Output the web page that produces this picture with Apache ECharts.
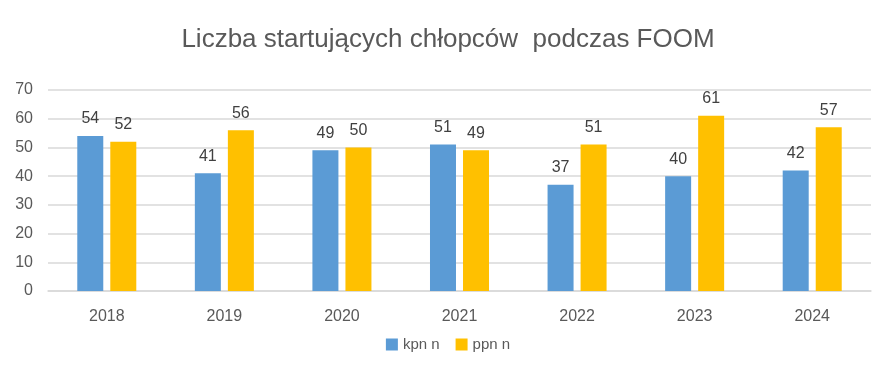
<!DOCTYPE html>
<html><head><meta charset="utf-8">
<script src="https://cdn.jsdelivr.net/npm/echarts@6/dist/echarts.min.js"></script>
<style>html,body{margin:0;padding:0;background:#fff}#c{width:896px;height:375px}</style>
</head><body><div id="c"></div>
<script>
const categories = ['2018','2019','2020','2021','2022','2023','2024'];
const kpn = [54, 41, 49, 51, 37, 40, 42];
const ppn = [52, 56, 50, 49, 51, 61, 57];
const seriesNames = ['kpn n', 'ppn n'];
const FONT = 'Liberation Sans';
const chart = echarts.init(document.getElementById('c'), null, {renderer: 'canvas'});
const lbl = {show: true, position: 'top', color: '#404040', fontSize: 16, fontFamily: FONT, distance: 9};
chart.setOption({
  animation: false,
  title: {text: 'Liczba startujących chłopców  podczas FOOM', left: 'center', top: 22,
    textStyle: {color: '#595959', fontSize: 26, fontWeight: 'normal', fontFamily: FONT}},
  legend: {bottom: 18, left: 'center', itemWidth: 12, itemHeight: 12, itemGap: 16, icon: 'rect',
    textStyle: {color: '#595959', fontSize: 15, fontFamily: FONT}, data: seriesNames},
  grid: {left: 48, right: 25, top: 90, bottom: 84, containLabel: false},
  xAxis: {type: 'category', data: categories,
    axisLine: {lineStyle: {color: '#d9d9d9', width: 1.5}}, axisTick: {show: false},
    axisLabel: {color: '#595959', fontSize: 16, fontFamily: FONT, margin: 18}},
  yAxis: {type: 'value', min: 0, max: 70, interval: 10,
    axisLine: {show: false}, axisTick: {show: false},
    splitLine: {lineStyle: {color: '#d9d9d9', width: 1.5}},
    axisLabel: {color: '#595959', fontSize: 16, fontFamily: FONT, margin: 15}},
  series: [
    {name: seriesNames[0], type: 'bar', data: kpn, barWidth: 26, barGap: '27%', itemStyle: {color: '#5B9BD5'}, label: lbl},
    {name: seriesNames[1], type: 'bar', data: ppn, barWidth: 26, itemStyle: {color: '#FFC000'}, label: lbl}
  ]
});
</script></body></html>
